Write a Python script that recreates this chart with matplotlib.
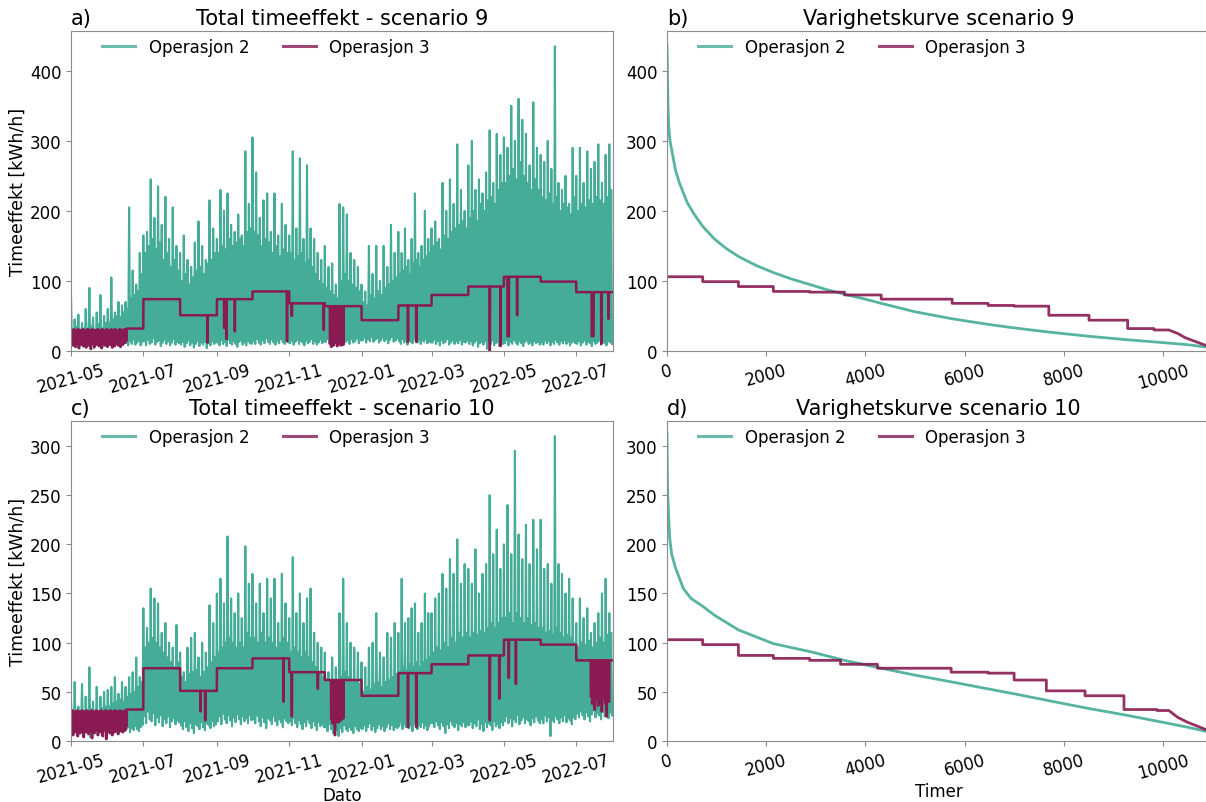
import numpy as np
import pandas as pd
import matplotlib
matplotlib.use("Agg")
import matplotlib.pyplot as plt
import matplotlib.dates as mdates

# Månedsstart (mai 2021 - juli 2022) og timesindeks
months = pd.date_range("2021-05-01", periods=16, freq="MS")
hours = pd.date_range("2021-05-01 00:00", "2022-07-31 23:00", freq="h")

# ---- Operasjon 2: topper og bunner per måned (20 av hver) ----
op2_peaks_s9 = [
    [78, 30, 45, 35, 52, 28, 40, 32, 60, 30, 90, 35, 48, 30, 55, 38, 80, 32, 50, 40],
    [60, 40, 105, 45, 55, 50, 70, 48, 65, 55, 70, 60, 205, 75, 115, 80, 95, 85, 140, 110],
    [165, 140, 170, 150, 245, 160, 190, 145, 235, 155, 180, 130, 220, 140, 160, 120, 205, 130, 150, 115],
    [140, 100, 165, 110, 130, 95, 120, 105, 155, 115, 185, 120, 150, 110, 130, 125, 215, 130, 175, 140],
    [160, 140, 230, 150, 200, 145, 225, 160, 180, 150, 170, 155, 195, 160, 165, 150, 285, 170, 210, 175],
    [305, 170, 255, 165, 190, 150, 215, 160, 225, 155, 170, 140, 225, 150, 165, 135, 210, 145, 180, 140],
    [165, 140, 285, 130, 175, 135, 275, 140, 160, 125, 265, 130, 175, 120, 160, 110, 140, 100, 130, 95],
    [150, 90, 120, 85, 125, 80, 95, 75, 210, 100, 205, 110, 195, 100, 140, 95, 130, 90, 120, 85],
    [95, 70, 85, 65, 150, 80, 110, 75, 150, 85, 100, 80, 150, 90, 120, 95, 180, 100, 140, 105],
    [170, 110, 140, 115, 175, 120, 130, 110, 160, 125, 225, 130, 140, 120, 150, 130, 200, 135, 160, 140],
    [175, 150, 185, 155, 160, 145, 240, 165, 200, 160, 245, 170, 210, 175, 295, 180, 230, 185, 200, 175],
    [265, 190, 300, 200, 230, 185, 245, 210, 225, 200, 255, 215, 315, 220, 240, 210, 310, 230, 280, 240],
    [305, 240, 290, 250, 350, 260, 300, 245, 360, 270, 330, 250, 310, 240, 265, 230, 355, 245, 290, 230],
    [280, 220, 270, 215, 300, 225, 260, 210, 435, 220, 240, 200, 230, 210, 250, 205, 210, 195, 290, 220],
    [250, 200, 290, 210, 240, 205, 285, 215, 260, 210, 270, 220, 295, 215, 240, 210, 280, 220, 295, 230],
]
op2_lows_s9 = [
    [12, 8, 15, 5, 10, 14, 6, 12, 9, 15, 7, 11, 4, 13, 10, 8, 14, 6, 12, 10],
    [10, 14, 8, 12, 16, 9, 13, 7, 15, 11, 12, 8, 14, 10, 16, 9, 12, 15, 8, 13],
    [14, 8, 16, 10, 12, 18, 9, 13, 15, 7, 12, 16, 10, 14, 8, 12, 17, 9, 13, 11],
    [9, 13, 6, 11, 15, 8, 12, 5, 10, 14, 7, 12, 9, 13, 4, 11, 8, 14, 10, 12],
    [12, 8, 15, 10, 13, 7, 16, 11, 9, 14, 10, 6, 13, 15, 9, 12, 8, 14, 11, 10],
    [14, 10, 17, 12, 9, 15, 11, 18, 13, 10, 16, 12, 9, 14, 11, 17, 13, 10, 15, 12],
    [11, 15, 9, 13, 16, 10, 14, 12, 8, 15, 11, 13, 17, 10, 14, 9, 12, 16, 11, 13],
    [13, 17, 11, 15, 10, 18, 14, 12, 16, 11, 19, 13, 15, 10, 17, 12, 14, 18, 11, 15],
    [15, 19, 12, 17, 14, 20, 13, 16, 18, 12, 15, 19, 14, 17, 11, 16, 20, 13, 15, 18],
    [14, 10, 17, 12, 15, 9, 16, 13, 11, 18, 14, 12, 16, 10, 15, 13, 17, 11, 14, 12],
    [12, 16, 10, 14, 8, 15, 11, 13, 17, 9, 12, 15, 10, 14, 11, 16, 9, 13, 12, 15],
    [10, 14, 8, 12, 15, 6, 11, 13, 9, 14, 3, 12, 10, 15, 8, 11, 13, 7, 12, 10],
    [11, 15, 8, 13, 10, 16, 12, 9, 14, 11, 7, 13, 15, 10, 12, 8, 14, 11, 13, 9],
    [12, 9, 15, 11, 14, 8, 13, 10, 16, 12, 9, 14, 11, 15, 10, 13, 8, 12, 14, 11],
    [10, 14, 8, 12, 15, 9, 13, 11, 7, 14, 10, 12, 15, 9, 13, 11, 8, 14, 12, 10],
]
op2_peaks_s10 = [
    [42, 28, 60, 25, 35, 30, 58, 27, 45, 30, 75, 32, 40, 28, 55, 30, 45, 33, 50, 35],
    [52, 35, 55, 38, 65, 40, 48, 42, 60, 40, 55, 45, 65, 48, 70, 50, 85, 55, 65, 60],
    [135, 95, 115, 100, 155, 105, 145, 100, 140, 95, 110, 90, 120, 85, 100, 80, 95, 75, 118, 80],
    [90, 65, 70, 60, 95, 68, 105, 70, 110, 72, 85, 65, 100, 70, 90, 75, 138, 80, 120, 85],
    [150, 90, 165, 95, 140, 100, 208, 105, 145, 100, 130, 95, 150, 100, 125, 95, 198, 110, 160, 105],
    [170, 105, 140, 100, 160, 110, 130, 100, 165, 105, 145, 100, 165, 95, 120, 100, 170, 105, 140, 100],
    [125, 90, 187, 95, 130, 90, 150, 85, 120, 90, 145, 85, 155, 80, 110, 75, 100, 70, 95, 65],
    [90, 60, 70, 55, 85, 58, 75, 55, 130, 65, 165, 70, 120, 65, 100, 60, 95, 62, 90, 58],
    [80, 50, 75, 55, 95, 52, 100, 58, 130, 60, 90, 55, 85, 60, 110, 62, 105, 65, 120, 68],
    [110, 70, 165, 75, 120, 72, 125, 78, 135, 75, 140, 80, 110, 75, 120, 80, 150, 82, 130, 85],
    [130, 90, 145, 95, 150, 92, 170, 100, 155, 95, 185, 105, 170, 100, 205, 110, 160, 105, 180, 110],
    [175, 105, 160, 110, 195, 108, 150, 112, 170, 110, 180, 115, 250, 120, 190, 115, 215, 120, 175, 125],
    [200, 125, 240, 130, 190, 120, 295, 130, 210, 125, 185, 120, 220, 125, 180, 118, 225, 120, 195, 115],
    [225, 115, 175, 110, 180, 112, 160, 108, 310, 115, 180, 110, 170, 105, 150, 108, 165, 105, 145, 100],
    [120, 95, 145, 100, 125, 98, 135, 102, 110, 95, 120, 100, 130, 105, 150, 100, 165, 108, 130, 110],
]
op2_lows_s10 = [
    [15, 8, 12, 5, 10, 14, 6, 11, 9, 13, 4, 10, 8, 12, 6, 11, 14, 9, 12, 10],
    [10, 14, 9, 12, 15, 8, 13, 11, 16, 10, 12, 14, 9, 13, 11, 15, 12, 10, 14, 16],
    [25, 18, 30, 22, 20, 28, 16, 24, 19, 26, 15, 22, 18, 25, 14, 20, 23, 17, 21, 19],
    [16, 12, 20, 14, 10, 18, 13, 8, 17, 15, 12, 19, 14, 11, 18, 16, 13, 20, 15, 17],
    [20, 25, 17, 28, 22, 18, 26, 21, 15, 24, 19, 27, 22, 17, 25, 20, 23, 18, 26, 21],
    [22, 18, 26, 20, 15, 24, 19, 13, 23, 21, 17, 25, 20, 16, 22, 19, 14, 23, 20, 18],
    [20, 16, 23, 18, 14, 21, 17, 12, 19, 15, 22, 18, 13, 20, 16, 11, 19, 15, 17, 14],
    [14, 10, 17, 12, 8, 15, 11, 5, 13, 9, 16, 12, 10, 14, 11, 8, 15, 12, 10, 13],
    [12, 16, 10, 14, 18, 11, 15, 9, 13, 17, 12, 15, 10, 14, 18, 12, 16, 11, 14, 13],
    [15, 19, 12, 17, 14, 20, 13, 16, 10, 18, 15, 12, 17, 14, 19, 13, 16, 11, 15, 18],
    [18, 14, 20, 16, 12, 19, 15, 8, 17, 13, 20, 16, 14, 18, 11, 17, 15, 19, 14, 16],
    [16, 20, 13, 18, 15, 22, 12, 17, 10, 19, 14, 18, 16, 11, 20, 15, 17, 13, 19, 16],
    [20, 25, 18, 23, 15, 22, 19, 26, 17, 21, 24, 18, 22, 20, 16, 23, 19, 25, 21, 18],
    [22, 18, 26, 20, 24, 5, 21, 19, 25, 22, 18, 24, 20, 26, 19, 23, 21, 17, 24, 22],
    [28, 24, 30, 26, 22, 29, 25, 20, 27, 31, 24, 28, 26, 22, 30, 25, 27, 23, 29, 26],
]

# ---- Operasjon 3: månedlig effektnivå ----
op3_levels_s9 = [31, 32, 74, 51, 74, 85, 68, 64, 44, 65, 80, 92, 106, 99, 84]
op3_levels_s10 = [31, 32, 74, 51, 74, 84, 70, 62, 46, 69, 78, 87, 103, 98, 82]

# urolig periode mai - midten av juni (verdi per 12 timer)
op3_start_s9 = [30, 12, 28, 8, 31, 15, 27, 6, 30, 10, 29, 14, 31, 4, 26, 11, 30, 9, 28, 16,
                31, 7, 29, 13, 27, 5, 30, 12, 31, 8, 28, 15, 30, 3, 29, 10, 31, 14, 27, 6,
                30, 11, 28, 9, 31, 13, 29, 7, 30, 12, 26, 4, 31, 10, 29, 15, 28, 8, 30, 11,
                31, 6, 27, 13, 30, 9, 29, 14, 31, 5, 28, 12, 30, 7, 31, 10, 29, 16, 27, 8,
                30, 13, 31, 6, 28, 11, 30, 9, 29, 14, 31, 12, 30, 15]
op3_start_s10 = [28, 10, 31, 6, 27, 14, 30, 9, 29, 12, 31, 5, 26, 15, 30, 8, 28, 11, 31, 13,
                 29, 4, 30, 16, 27, 9, 31, 12, 28, 7, 30, 14, 29, 10, 31, 3, 27, 13, 30, 8,
                 28, 15, 31, 11, 29, 6, 30, 12, 26, 9, 31, 14, 28, 5, 30, 11, 29, 13, 31, 2,
                 27, 10, 30, 15, 28, 8, 31, 12, 29, 6, 30, 14, 27, 9, 31, 11, 28, 16, 30, 7,
                 29, 13, 31, 10, 28, 12, 30, 9, 26, 14, 31, 11, 30, 15]

# kortvarige fall: (tidspunkt, verdi, antall timer)
op3_dips_s9 = [
    ("2021-08-24", 12, 6), ("2021-09-07", 33, 10), ("2021-09-09", 17, 8),
    ("2021-09-16", 28, 6), ("2021-10-30", 14, 6), ("2021-11-03", 50, 8),
    ("2021-11-30", 30, 6),
    ("2021-12-05 06:00", 10, 14), ("2021-12-06 06:00", 6, 14), ("2021-12-07 06:00", 15, 14),
    ("2021-12-08 06:00", 8, 14), ("2021-12-09 06:00", 12, 14), ("2021-12-10 06:00", 20, 14),
    ("2021-12-11 06:00", 7, 14), ("2021-12-12 06:00", 10, 14), ("2021-12-13 06:00", 14, 14),
    ("2021-12-14 06:00", 8, 14), ("2021-12-15 06:00", 18, 14), ("2021-12-16 06:00", 9, 14),
    ("2022-02-09", 13, 6), ("2022-02-16", 13, 6), ("2022-04-19", 0, 6),
    ("2022-04-28", 7, 6), ("2022-05-04", 21, 30), ("2022-05-12", 51, 6),
    ("2022-07-14", 21, 40), ("2022-07-22", 10, 6), ("2022-07-28", 46, 6),
]
op3_dips_s10 = [
    ("2021-08-18", 30, 6), ("2021-08-22", 21, 8), ("2021-10-27", 40, 6),
    ("2021-11-03", 25, 8), ("2021-11-25", 53, 6),
    ("2021-12-06 06:00", 22, 14), ("2021-12-07 06:00", 18, 14), ("2021-12-08 06:00", 25, 14),
    ("2021-12-09 06:00", 6, 14), ("2021-12-10 06:00", 20, 14), ("2021-12-11 06:00", 28, 14),
    ("2021-12-12 06:00", 19, 14), ("2021-12-13 06:00", 24, 14), ("2021-12-14 06:00", 21, 14),
    ("2021-12-15 06:00", 30, 14), ("2021-12-16 06:00", 23, 14),
    ("2022-02-09", 14, 6), ("2022-02-16", 14, 6), ("2022-04-19", 21, 6),
    ("2022-04-27", 43, 6), ("2022-05-05", 64, 6), ("2022-05-11", 58, 6),
    ("2022-07-13 06:00", 45, 14), ("2022-07-14 06:00", 38, 14), ("2022-07-15 06:00", 50, 14),
    ("2022-07-16 06:00", 32, 14), ("2022-07-17 06:00", 42, 14), ("2022-07-18 06:00", 55, 14),
    ("2022-07-19 06:00", 36, 14), ("2022-07-20 06:00", 40, 14), ("2022-07-21 06:00", 48, 14),
    ("2022-07-22 06:00", 30, 14), ("2022-07-23 06:00", 44, 14), ("2022-07-24 06:00", 52, 14),
    ("2022-07-25 06:00", 38, 14), ("2022-07-26 06:00", 25, 14), ("2022-07-27 06:00", 46, 14),
    ("2022-07-28 06:00", 40, 14),
]

# ---- Varighetskurver ----
dur_op2_s9_h = [0, 5, 10, 20, 35, 60, 100, 172, 250, 407, 550, 720, 955, 1200, 1440, 1800,
                2145, 2500, 2875, 3200, 3580, 4000, 4320, 5000, 5750, 6475, 7000, 7700,
                8510, 9290, 10000, 10500, 10944]
dur_op2_s9_v = [436, 420, 390, 350, 320, 300, 285, 258, 240, 212, 195, 178, 160, 146, 135, 122,
                112, 103, 95, 88, 81, 74, 68, 56, 46, 38, 33, 27, 21, 16, 12, 9, 5]
dur_op2_s10_h = [0, 5, 12, 31, 55, 94, 172, 330, 485, 720, 955, 1440, 2145, 2875, 3580, 4320,
                 5000, 5750, 6475, 7000, 7700, 8510, 9290, 10000, 10500, 10944]
dur_op2_s10_v = [313, 290, 255, 230, 206, 190, 176, 155, 145, 137, 128, 113, 99, 91, 82, 74,
                 67, 60, 53, 48, 41, 33, 26, 19, 14, 9]

dur_op3_s9_edges = [0, 720, 1440, 2145, 2875, 3580, 4320, 5750, 6475, 7000, 7700, 8510, 9290, 9820, 10120]
dur_op3_s9_levels = [106, 99, 92, 85, 84, 80, 74, 68, 65, 64, 51, 44, 32, 30]
dur_op3_s9_tail_h = [10300, 10450, 10600, 10750, 10944]
dur_op3_s9_tail_v = [25, 19, 15, 11, 6]
dur_op3_s10_edges = [0, 720, 1440, 2145, 2875, 3500, 4245, 5730, 6475, 7000, 7650, 8430, 9215, 9880, 10120]
dur_op3_s10_levels = [103, 98, 87, 84, 82, 78, 74, 70, 69, 62, 51, 46, 32, 31]
dur_op3_s10_tail_h = [10300, 10500, 10700, 10944]
dur_op3_s10_tail_v = [24, 19, 15, 10]

c_op2 = "#44ac97"
c_op3 = "#891a52"
FS = 12


def op2_series(peaks, lows):
    t, v = [], []
    for m in range(len(peaks)):
        ts = pd.date_range(months[m], months[m + 1], periods=2 * len(peaks[m]) + 1)[:-1]
        vals = np.column_stack([peaks[m], lows[m]]).ravel()
        t.extend(ts)
        v.extend(vals)
    return t, v


def op3_series(levels, start_block, dips):
    month_idx = (hours.year - 2021) * 12 + hours.month - 5
    arr = np.array(levels, dtype=float)[month_idx]
    for i, val in enumerate(start_block):
        arr[i * 12:(i + 1) * 12] = val
    for when, val, n in dips:
        i = hours.get_loc(pd.Timestamp(when))
        arr[i:i + n] = val
    return arr


def step_curve(edges, levels, tail_h, tail_v):
    x, y = [], []
    for i, lev in enumerate(levels):
        x += [edges[i], edges[i + 1]]
        y += [lev, lev]
    return x + tail_h, y + tail_v


def style(ax, label, title):
    ax.set_title(label, loc="left", fontsize=15, pad=5)
    ax.set_title(title, fontsize=15, pad=5)
    for s in ax.spines.values():
        s.set_color("#8c8c8c")
    ax.tick_params(labelsize=FS, color="#8c8c8c")
    leg = ax.legend(loc="upper left", bbox_to_anchor=(0.045, 1.0), borderaxespad=0,
                    ncol=2, frameon=False, fontsize=FS, columnspacing=2.0)
    for h in leg.get_lines():
        h.set_linewidth(2.2)
        h.set_alpha(0.8)


fig = plt.figure(figsize=(12.06, 8.03), dpi=100)
W, H = 1206, 803
ax_a = fig.add_axes([71 / W, (H - 352) / H, 542 / W, 320 / H])
ax_b = fig.add_axes([667 / W, (H - 352) / H, 543 / W, 320 / H])
ax_c = fig.add_axes([71 / W, (H - 742) / H, 542 / W, 320 / H])
ax_d = fig.add_axes([667 / W, (H - 742) / H, 543 / W, 320 / H])

panels = [
    (ax_a, ax_b, "9", op2_peaks_s9, op2_lows_s9, op3_levels_s9, op3_start_s9, op3_dips_s9,
     dur_op2_s9_h, dur_op2_s9_v, dur_op3_s9_edges, dur_op3_s9_levels, dur_op3_s9_tail_h,
     dur_op3_s9_tail_v, ("a)", "b)")),
    (ax_c, ax_d, "10", op2_peaks_s10, op2_lows_s10, op3_levels_s10, op3_start_s10, op3_dips_s10,
     dur_op2_s10_h, dur_op2_s10_v, dur_op3_s10_edges, dur_op3_s10_levels, dur_op3_s10_tail_h,
     dur_op3_s10_tail_v, ("c)", "d)")),
]

for (axt, axd, scen, pk, lw_, lev, blk, dips, d2h, d2v, d3e, d3l, d3th, d3tv, labs) in panels:
    t2, v2 = op2_series(pk, lw_)
    v3 = op3_series(lev, blk, dips)
    axt.plot(t2, v2, color=c_op2, lw=1.5, label="Operasjon 2")
    axt.plot(hours, v3, color=c_op3, lw=1.8, label="Operasjon 3")
    axt.set_xlim(months[0], months[-1])
    axt.margins(y=0.05)
    axt.set_ylim(bottom=0)
    axt.xaxis.set_major_locator(mdates.MonthLocator(bymonth=[1, 3, 5, 7, 9, 11]))
    axt.xaxis.set_major_formatter(mdates.DateFormatter("%Y-%m"))
    axt.set_ylabel("Timeeffekt [kWh/h]", fontsize=12.5, labelpad=2)
    style(axt, labs[0], "Total timeeffekt - scenario " + scen)
    plt.setp(axt.get_xticklabels(), rotation=15, ha="center")

    x3, y3 = step_curve(d3e, d3l, d3th, d3tv)
    axd.plot(d2h, d2v, color=c_op2, lw=2, alpha=0.9, label="Operasjon 2")
    axd.plot(x3, y3, color=c_op3, lw=2, alpha=0.9, label="Operasjon 3")
    axd.set_xlim(0, 10950)
    axd.set_ylim(axt.get_ylim())
    style(axd, labs[1], "Varighetskurve scenario " + scen)
    plt.setp(axd.get_xticklabels(), rotation=15, ha="center")

ax_c.set_xlabel("Dato", fontsize=FS, labelpad=0)
ax_d.set_xlabel("Timer", fontsize=FS, labelpad=0)

fig.savefig("out.png", dpi=100)
